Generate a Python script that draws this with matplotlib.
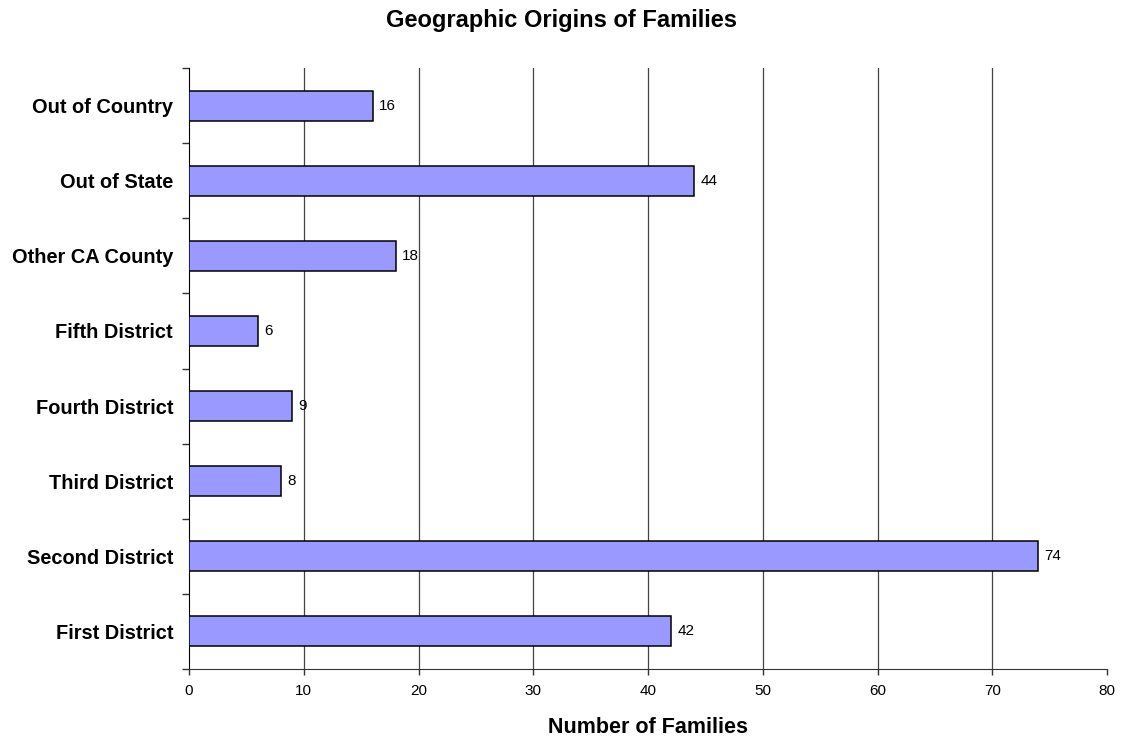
import matplotlib
matplotlib.use("Agg")
import matplotlib.pyplot as plt
import numpy as np

categories = ["First District", "Second District", "Third District", "Fourth District",
              "Fifth District", "Other CA County", "Out of State", "Out of Country"]
values = [42, 74, 8, 9, 6, 18, 44, 16]
xticks = [0, 10, 20, 30, 40, 50, 60, 70, 80]

plt.rcParams['font.family'] = ['Liberation Sans', 'DejaVu Sans']

W, H = 1122, 736
fig = plt.figure(figsize=(W/100, H/100), dpi=100)
ax = fig.add_axes([189/W, 1 - 669/H, (1107-189)/W, (669-68)/H])

y = np.arange(len(categories))
ax.barh(y, values, height=0.4, color='#9999FF', edgecolor='black', linewidth=1.1, zorder=3)
for yi, v in zip(y, values):
    ax.text(v + 0.55, yi, str(v), va='center', ha='left', fontsize=11, zorder=4)

ax.set_xlim(0, 80)
ax.set_ylim(-0.5, len(categories) - 0.5)
ax.set_xticks(xticks)
ax.set_xticklabels([str(t) for t in xticks], fontsize=11)
ax.set_yticks(y)
ax.set_yticklabels(categories, fontsize=14.4, fontweight='bold')
ax.set_yticks(np.arange(-0.5, len(categories), 1.0), minor=True)
ax.tick_params(axis='y', which='major', length=0, pad=11.5)
ax.tick_params(axis='y', which='minor', length=5, direction='out', width=1, color='#333333')
ax.tick_params(axis='x', which='major', length=4, direction='out', width=1, color='#333333', pad=6.5)

for t in xticks[1:-1]:
    ax.axvline(t, color='#444444', linewidth=0.9, zorder=1)

ax.spines['top'].set_visible(False)
ax.spines['right'].set_visible(False)
ax.spines['left'].set_color('black')
ax.spines['bottom'].set_color('#333333')

fig.text((189+1107)/2/W, 1 - 733/H, "Number of Families", ha='center', va='baseline',
         fontsize=15.5, fontweight='bold')
fig.text(0.5, 1 - 21/H, "Geographic Origins of Families", ha='center', va='center',
         fontsize=17, fontweight='bold')

fig.savefig("out.png", dpi=100)
